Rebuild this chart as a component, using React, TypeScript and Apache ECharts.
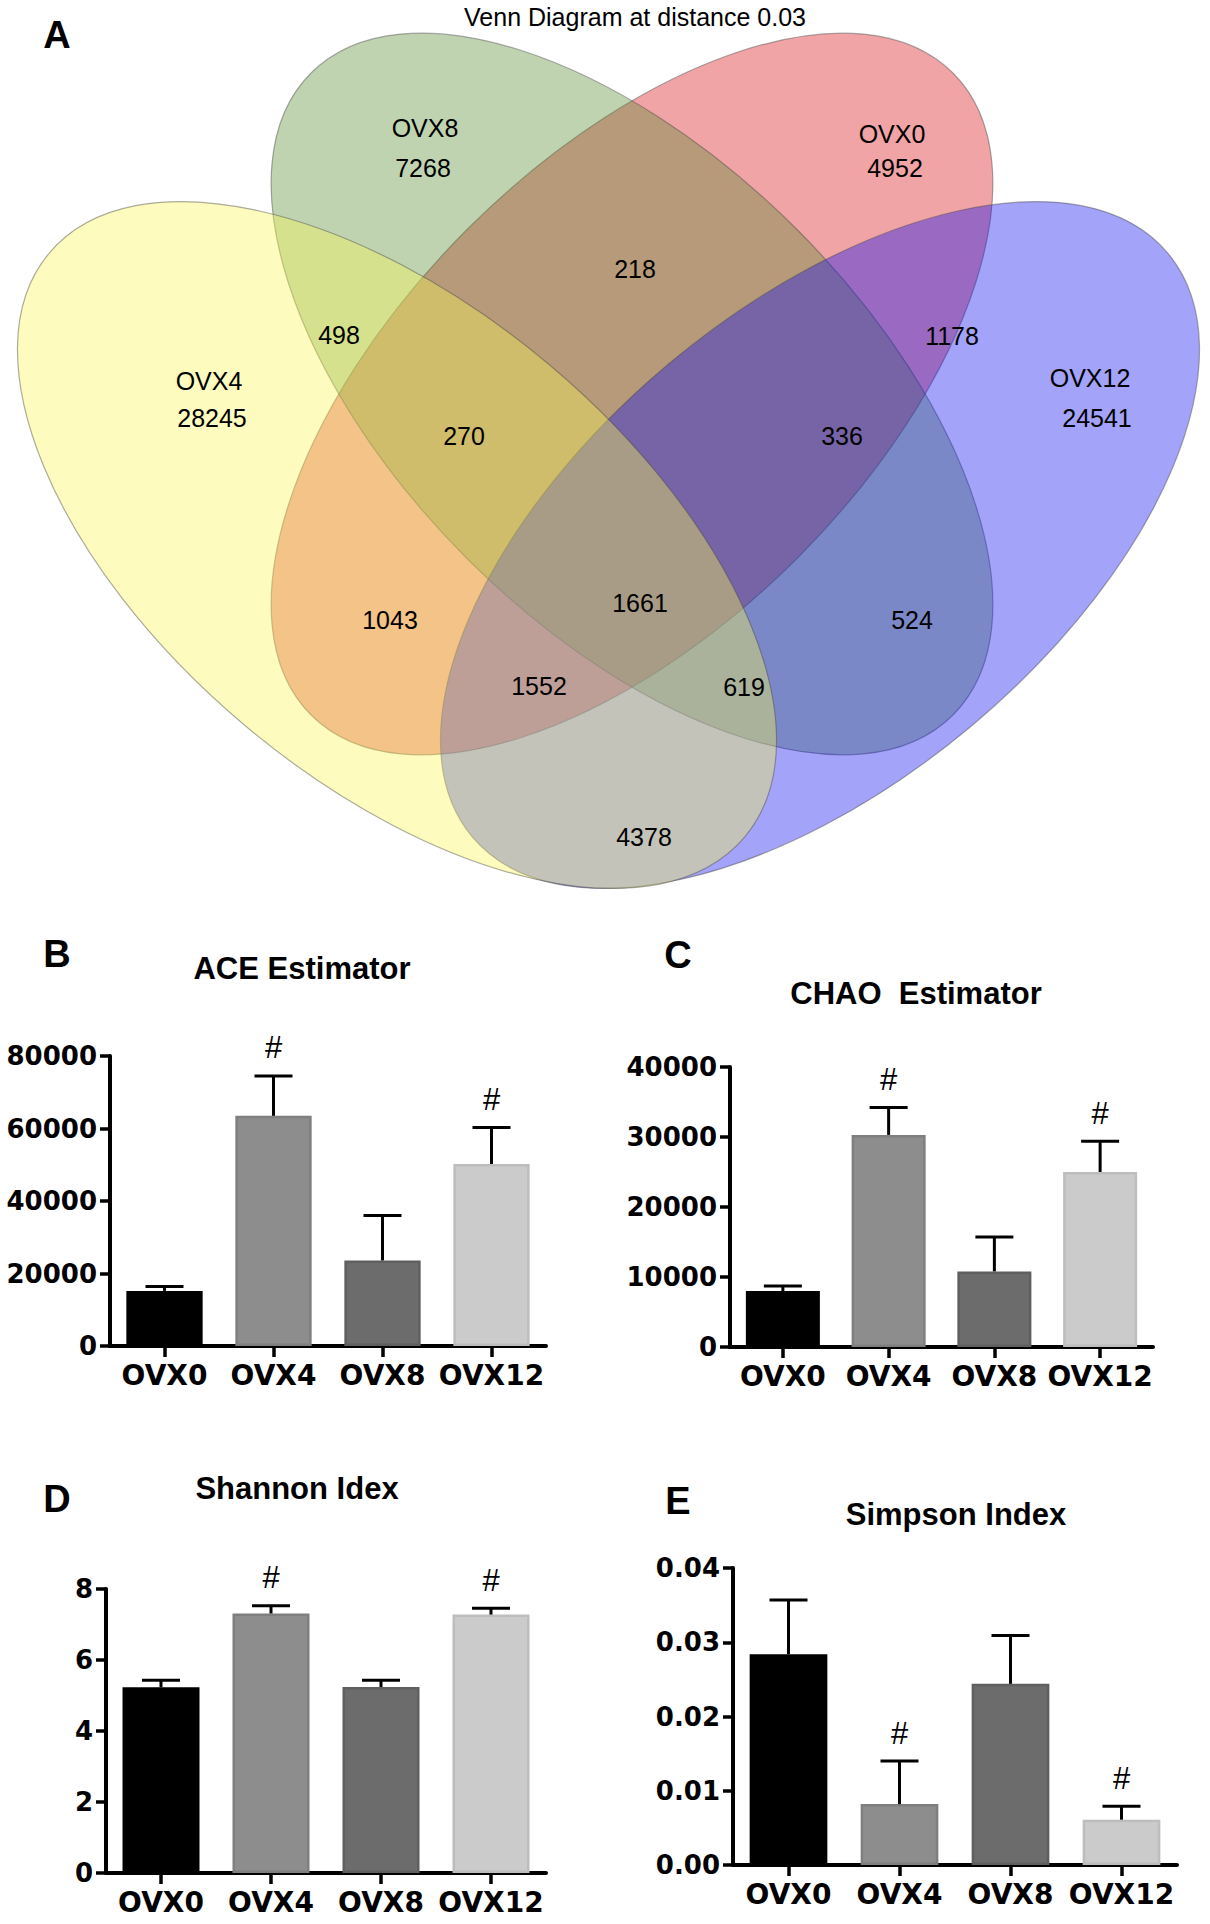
import React, { useEffect, useRef } from "react";
import * as echarts from "echarts";

// ---------- data ----------
const groups = ["OVX0", "OVX4", "OVX8", "OVX12"];

const aceMean = [15200, 63500, 23600, 50200];
const aceErr = [1200, 11000, 12400, 10100];
const aceTicks = [0, 20000, 40000, 60000, 80000];

const chaoMean = [8000, 30300, 10800, 25000];
const chaoErr = [700, 3900, 4900, 4400];
const chaoTicks = [0, 10000, 20000, 30000, 40000];

const shannonMean = [5.23, 7.31, 5.24, 7.28];
const shannonErr = [0.2, 0.22, 0.19, 0.18];
const shannonTicks = [0, 2, 4, 6, 8];

const simpsonMean = [0.0284, 0.0082, 0.0244, 0.0061];
const simpsonErr = [0.0073, 0.0058, 0.0065, 0.0018];
const simpsonTicks = [0, 0.01, 0.02, 0.03, 0.04];

const significant = [false, true, false, true];

const panelTitles = ["ACE Estimator", "CHAO  Estimator", "Shannon Idex", "Simpson Index"];
const panelLetters = ["A", "B", "C", "D", "E"];

const vennTitle = "Venn Diagram at distance 0.03";
const vennSetNames = ["OVX4", "OVX8", "OVX0", "OVX12"];
const vennSetUnique = [28245, 7268, 4952, 24541];
const vennOverlapCounts = [498, 218, 1178, 270, 336, 1043, 1661, 524, 1552, 619, 4378];

// ---------- layout (positions / styles) ----------
const FONT = '"Liberation Sans", Arial, Helvetica, sans-serif';
const AXFONT = '"DejaVu Sans", "Liberation Sans", Arial, sans-serif';

const barColors = ["#000000", "#8d8d8d", "#6c6c6c", "#cbcbcb"];
const barBorders = ["#000000", "#7f7f7f", "#5f5f5f", "#bdbdbd"];

const gridBoxes = [
  { left: 110, top: 1056, width: 436, height: 290 },
  { left: 730, top: 1067, width: 423, height: 280 },
  { left: 106, top: 1589, width: 440, height: 284 },
  { left: 733, top: 1568, width: 444, height: 297 },
];
const titlePos = [
  [302, 968],
  [916, 993],
  [297, 1488],
  [956, 1514],
];
const letterPos = [
  [57, 35],
  [57, 954],
  [678, 955],
  [57, 1499],
  [678, 1501],
];

// ellipses drawn bottom -> top (OVX0, OVX8, OVX12, OVX4)
const ellipseDefs = [
  { set: "OVX0", cx: 632, cy: 394, a: 454, b: 233, rot: 45, fill: "rgba(215,15,21,0.38)" },
  { set: "OVX8", cx: 632, cy: 394, a: 454, b: 233, rot: -45, fill: "rgba(87,139,47,0.38)" },
  { set: "OVX12", cx: 820, cy: 545, a: 454, b: 236, rot: 40, fill: "rgba(13,13,239,0.38)" },
  { set: "OVX4", cx: 397, cy: 545, a: 454, b: 236, rot: -40, fill: "rgba(250,247,84,0.38)" },
];
const setLabelPos = [
  [209, 381, 212, 418],
  [425, 128, 423, 168],
  [892, 134, 895, 168],
  [1090, 378, 1097, 418],
];
const overlapPos = [
  [339, 335],
  [635, 269],
  [952, 336],
  [464, 436],
  [842, 436],
  [390, 620],
  [640, 603],
  [912, 620],
  [539, 686],
  [744, 687],
  [644, 837],
];

function txt(text: string, x: number, y: number, size: number, weight: string, family = FONT) {
  return {
    type: "text",
    x,
    y,
    z: 20,
    silent: true,
    style: {
      text,
      font: `${weight} ${size}px ${family}`,
      fill: "#000",
      align: "center",
      verticalAlign: "middle",
      textAlign: "center",
      textVerticalAlign: "middle",
    },
  };
}

function buildOption() {
  const panels = [
    { mean: aceMean, err: aceErr, ticks: aceTicks, fmt: (v: number) => String(v) },
    { mean: chaoMean, err: chaoErr, ticks: chaoTicks, fmt: (v: number) => String(v) },
    { mean: shannonMean, err: shannonErr, ticks: shannonTicks, fmt: (v: number) => String(v) },
    { mean: simpsonMean, err: simpsonErr, ticks: simpsonTicks, fmt: (v: number) => v.toFixed(2) },
  ];

  const grid = gridBoxes.map((g) => ({ ...g, containLabel: false, outerBoundsMode: "none" }));

  const xAxis = panels.map((_, i) => ({
    type: "category",
    gridIndex: i,
    data: groups,
    axisLine: { show: true, lineStyle: { color: "#000", width: 4 } },
    axisTick: { show: true, alignWithLabel: true, length: 11, lineStyle: { color: "#000", width: 3.5 } },
    axisLabel: {
      interval: 0,
      color: "#000",
      fontSize: 28,
      fontWeight: "bold",
      fontFamily: AXFONT,
      margin: 15,
    },
    splitLine: { show: false },
  }));

  const yAxis = panels.map((p, i) => {
    const t = p.ticks;
    return {
      type: "value",
      gridIndex: i,
      min: t[0],
      max: t[t.length - 1],
      interval: t[1] - t[0],
      axisLine: { show: true, lineStyle: { color: "#000", width: 4 } },
      axisTick: { show: true, length: 10, lineStyle: { color: "#000", width: 3.5 } },
      axisLabel: {
        color: "#000",
        fontSize: 26,
        fontWeight: "bold",
        fontFamily: AXFONT,
        margin: 13,
        formatter: p.fmt,
      },
      splitLine: { show: false },
    };
  });

  const series: any[] = [];
  panels.forEach((p, i) => {
    series.push({
      type: "bar",
      xAxisIndex: i,
      yAxisIndex: i,
      barCategoryGap: "30%",
      z: 2,
      data: p.mean.map((v, k) => ({
        value: v,
        itemStyle: { color: barColors[k], borderColor: barBorders[k], borderWidth: 2.5 },
      })),
    });
    series.push({
      type: "custom",
      xAxisIndex: i,
      yAxisIndex: i,
      z: 3,
      encode: { x: 0, y: 1 },
      data: p.mean.map((v, k) => [k, v + p.err[k], v, significant[k] ? 1 : 0]),
      renderItem: (_params: any, api: any) => {
        const idx = api.value(0);
        const top = api.coord([idx, api.value(1)]);
        const base = api.coord([idx, api.value(2)]);
        const children: any[] = [
          {
            type: "line",
            shape: { x1: top[0], y1: base[1], x2: top[0], y2: top[1] },
            style: { stroke: "#000", lineWidth: 3 },
          },
          {
            type: "line",
            shape: { x1: top[0] - 19, y1: top[1], x2: top[0] + 19, y2: top[1] },
            style: { stroke: "#000", lineWidth: 3 },
          },
        ];
        if (api.value(3)) {
          children.push({
            type: "text",
            x: top[0],
            y: top[1] - 28,
            style: {
              text: "#",
              fontSize: 31,
              fontFamily: FONT,
              fontWeight: "normal",
              fill: "#000",
              align: "center",
              verticalAlign: "middle",
              textAlign: "center",
              textVerticalAlign: "middle",
            },
          });
        }
        return { type: "group", children };
      },
    });
  });

  const graphics: any[] = [];
  ellipseDefs.forEach((e) => {
    graphics.push({
      type: "ellipse",
      x: e.cx,
      y: e.cy,
      rotation: (e.rot * Math.PI) / 180,
      silent: true,
      shape: { cx: 0, cy: 0, rx: e.a, ry: e.b },
      style: { fill: e.fill, stroke: "rgba(70,70,70,0.45)", lineWidth: 1.2 },
      z: 1,
    });
  });
  graphics.push(txt(vennTitle, 635, 17, 25, "normal"));
  vennSetNames.forEach((n, i) => {
    const p = setLabelPos[i];
    graphics.push(txt(n, p[0], p[1], 25, "normal"));
    graphics.push(txt(String(vennSetUnique[i]), p[2], p[3], 25, "normal"));
  });
  vennOverlapCounts.forEach((c, i) => {
    const p = overlapPos[i];
    graphics.push(txt(String(c), p[0], p[1], 25, "normal"));
  });
  panelLetters.forEach((l, i) => {
    const p = letterPos[i];
    graphics.push(txt(l, p[0], p[1], 38, "bold"));
  });
  panelTitles.forEach((t, i) => {
    const p = titlePos[i];
    graphics.push(txt(t, p[0], p[1], 31, "bold"));
  });

  return {
    animation: false,
    backgroundColor: "#ffffff",
    grid,
    xAxis,
    yAxis,
    series,
    graphic: { elements: graphics },
  };
}

export default function App() {
  const ref = useRef<HTMLDivElement | null>(null);
  useEffect(() => {
    document.body.style.margin = "0";
    if (!ref.current) return;
    const chart = echarts.init(ref.current, undefined, { renderer: "svg" });
    chart.setOption(buildOption() as any);
    return () => {
      chart.dispose();
    };
  }, []);
  return <div ref={ref} style={{ width: 1210, height: 1924, background: "#fff" }} />;
}
